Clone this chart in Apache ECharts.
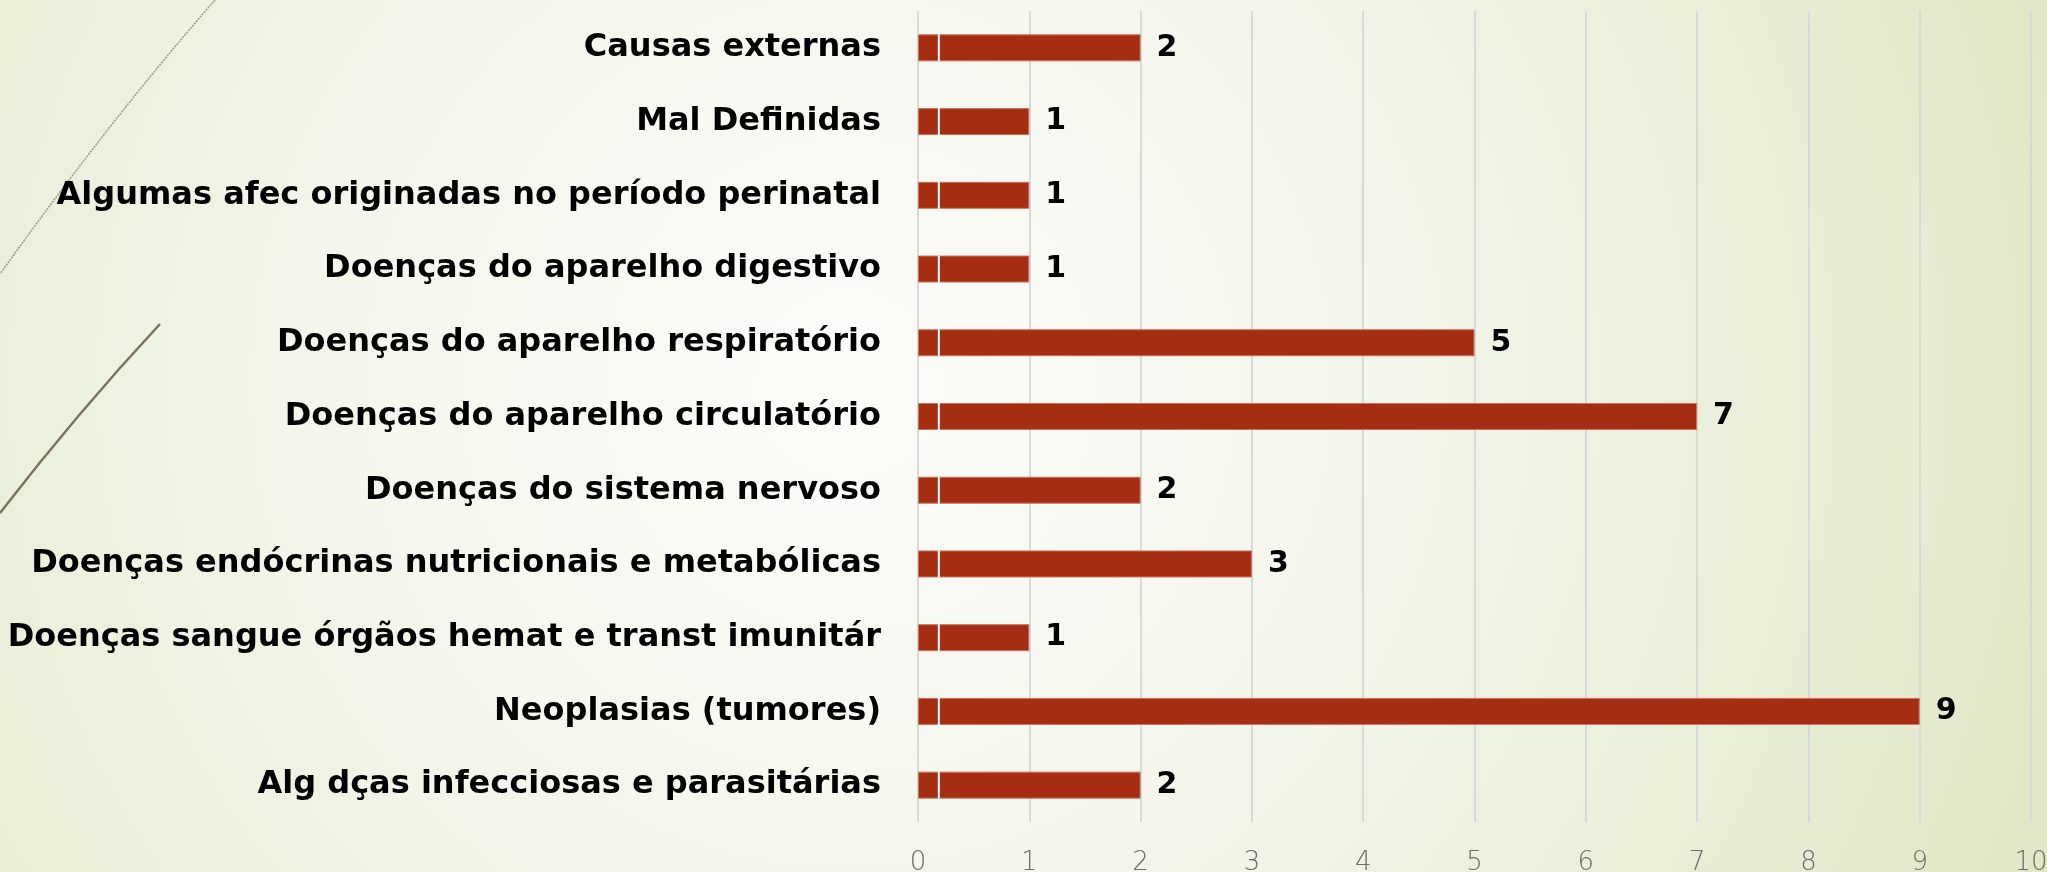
<!DOCTYPE html>
<html>
<head>
<meta charset="utf-8">
<script src="https://cdn.jsdelivr.net/npm/echarts@6/dist/echarts.min.js"></script>
<style>
  html, body { margin: 0; padding: 0; }
  #chart { width: 2047px; height: 872px; }
</style>
</head>
<body>
<div id="chart"></div>
<script>
// categorias, de cima para baixo
var categories = [
  'Causas externas',
  'Mal Definidas',
  'Algumas afec originadas no período perinatal',
  'Doenças do aparelho digestivo',
  'Doenças do aparelho respiratório',
  'Doenças do aparelho circulatório',
  'Doenças do sistema nervoso',
  'Doenças endócrinas nutricionais e metabólicas',
  'Doenças sangue órgãos hemat e transt imunitár',
  'Neoplasias (tumores)',
  'Alg dças infecciosas e parasitárias'
]
var obitos = [2, 1, 1, 1, 5, 7, 2, 3, 1, 9, 2]
var xTicks = [0, 10] // min / max

var stripeAt = 0.187 // fio branco perto do inicio de cada barra

var myChart = echarts.init(document.getElementById('chart'))
var option = {
  backgroundColor: {
    type: 'radial', x: 0.415, y: 0.44, r: 1.5,
    colorStops: [
      { offset: 0, color: '#fcfcf9' },
      { offset: 0.35, color: '#f5f7ee' },
      { offset: 0.7, color: '#e9efd9' },
      { offset: 1, color: '#dfe7c5' }
    ]
  },
  // linhas decorativas do slide
  graphic: [
    {
      type: 'bezierCurve',
      shape: { x1: 215, y1: 0, x2: 0, y2: 274, cpx1: 110, cpy1: 120 },
      style: { stroke: '#a39d8b', lineWidth: 1.6, fill: null, lineDash: [2, 1] }
    },
    {
      type: 'bezierCurve',
      shape: { x1: 160, y1: 324, x2: 0, y2: 513, cpx1: 78, cpy1: 412 },
      style: { stroke: '#7b715c', lineWidth: 2.5, fill: null }
    }
  ],
  grid: {
    left: 918,
    right: 16,
    top: 11,
    bottom: 50,
    outerBoundsMode: 'none'
  },
  xAxis: {
    type: 'value',
    min: xTicks[0],
    max: xTicks[1],
    interval: 1,
    axisLine: { show: false },
    axisTick: { show: false },
    axisLabel: {
      color: '#6b6b6b',
      fontFamily: 'DejaVu Sans',
      fontWeight: 200,
      fontSize: 26,
      margin: 28
    },
    splitLine: {
      show: true,
      lineStyle: { color: '#d9d9d9', width: 2, type: 'solid' }
    }
  },
  yAxis: {
    type: 'category',
    inverse: true,
    data: categories,
    axisLine: { show: false },
    axisTick: { show: false },
    axisLabel: {
      color: '#000',
      fontFamily: 'DejaVu Sans',
      fontWeight: 'bold',
      fontSize: 32,
      margin: 37
    }
  },
  series: [
    {
      name: 'Óbitos',
      type: 'bar',
      data: obitos,
      barWidth: 27,
      itemStyle: { color: '#a52e12', borderColor: '#c9735f', borderWidth: 1 },
      label: {
        show: true,
        position: 'right',
        distance: 16,
        color: '#000',
        fontFamily: 'DejaVu Sans',
        fontWeight: 'bold',
        fontSize: 30
      }
    },
    {
      type: 'custom',
      data: obitos,
      silent: true,
      z: 5,
      renderItem: function (params, api) {
        var p = api.coord([stripeAt, params.dataIndex])
        return {
          type: 'rect',
          shape: { x: p[0] - 1, y: p[1] - 13.5, width: 2, height: 27 },
          style: { fill: '#ffffff' }
        }
      }
    }
  ]
}
myChart.setOption(option)
</script>
</body>
</html>
